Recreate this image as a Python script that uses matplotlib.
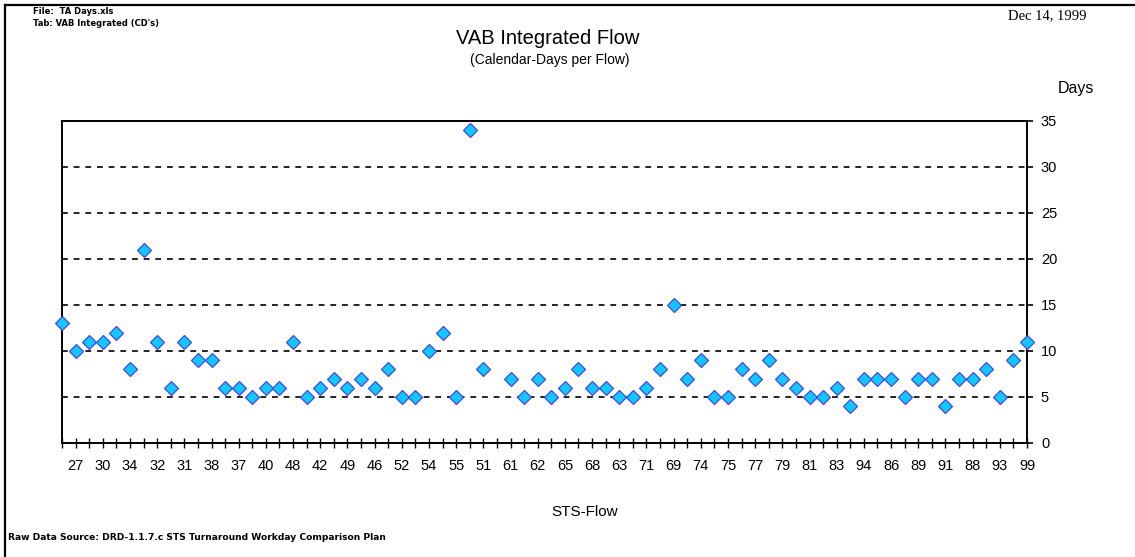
import matplotlib
matplotlib.use("Agg")
import matplotlib.pyplot as plt
import numpy as np

# Data: calendar-days per flow, in processing order (None = no value)
days = [13, 10, 11, 11, 12, 8, 21, 11, 6, 11, 9, 9, 6, 6, 5, 6, 6, 11, 5, 6,
        7, 6, 7, 6, 8, 5, 5, 10, 12, 5, 34, 8, None, 7, 5, 7, 5, 6, 8, 6,
        6, 5, 5, 6, 8, 15, 7, 9, 5, 5, 8, 7, 9, 7, 6, 5, 5, 6, 4, 7,
        7, 7, 5, 7, 7, 4, 7, 7, 8, 5, 9, 11]
# Shown flow labels (every other point, starting with the second)
flow_labels = ["27", "30", "34", "32", "31", "38", "37", "40", "48", "42", "49", "46",
               "52", "54", "55", "51", "61", "62", "65", "68", "63", "71", "69", "74",
               "75", "77", "79", "81", "83", "94", "86", "89", "91", "88", "93", "99"]
y_ticks = [0, 5, 10, 15, 20, 25, 30, 35]

W, H = 1135, 557
fig = plt.figure(figsize=(W / 100, H / 100), dpi=100)
fig.patch.set_facecolor("white")

# outer frame (left + top)
fig.add_artist(plt.Line2D([5 / W, 5 / W], [0, 1 - 5 / H], color="black", lw=1.6))
fig.add_artist(plt.Line2D([5 / W, 1], [1 - 5 / H, 1 - 5 / H], color="black", lw=1.6))

L, R, T, B = 62, 1027, 121, 443
ax = fig.add_axes([L / W, 1 - B / H, (R - L) / W, (B - T) / H])

x = np.arange(len(days))
y = np.array([np.nan if v is None else v for v in days], dtype=float)
ax.plot(x, y, linestyle="none", marker="D", markersize=7.2,
        markerfacecolor="#10C8FF", markeredgecolor="#4848D8", markeredgewidth=0.9,
        clip_on=False, zorder=5)

ax.set_xlim(0, len(days) - 1)
ax.set_ylim(0, 35)

ax.yaxis.tick_right()
ax.set_yticks(y_ticks)
ax.set_yticklabels([str(v) for v in y_ticks], fontsize=10.5, family="Liberation Sans")
ax.tick_params(axis="y", direction="out", length=4, width=1.2, pad=6, right=True, left=False)

ax.set_xticks(x)
lbls = [""] * len(days)
for i, s in enumerate(flow_labels):
    lbls[2 * i + 1] = s
ax.set_xticklabels(lbls, fontsize=10.5, family="Liberation Sans")
ax.tick_params(axis="x", direction="inout", length=7, width=1.0, pad=8)

for v in y_ticks[1:-1]:
    ax.axhline(v, color="black", lw=1.2, linestyle=(0, (3.5, 3.5)), zorder=1)

for s in ax.spines.values():
    s.set_linewidth(1.4)
    s.set_color("black")

# texts
fig.text(33 / W, 1 - 12 / H, "File:  TA Days.xls", fontsize=6, fontweight="bold",
         family="DejaVu Sans", va="center", ha="left")
fig.text(33 / W, 1 - 23 / H, "Tab: VAB Integrated (CD's)", fontsize=6, fontweight="bold",
         family="DejaVu Sans", va="center", ha="left")
fig.text(548 / W, 1 - 38 / H, "VAB Integrated Flow", fontsize=14.5,
         family="Liberation Sans", ha="center", va="center")
fig.text(550 / W, 1 - 60 / H, "(Calendar-Days per Flow)", fontsize=10,
         family="Liberation Sans", ha="center", va="center")
fig.text(1047 / W, 1 - 16 / H, "Dec 14, 1999", fontsize=10.5,
         family="Liberation Serif", ha="center", va="center")
fig.text(1076 / W, 1 - 89 / H, "Days", fontsize=11.5,
         family="Liberation Sans", ha="center", va="center")
fig.text(585 / W, 1 - 512 / H, "STS-Flow", fontsize=11,
         family="Liberation Sans", ha="center", va="center")
fig.text(8 / W, 1 - 538 / H, "Raw Data Source: DRD-1.1.7.c STS Turnaround Workday Comparison Plan",
         fontsize=6.6, fontweight="bold", family="DejaVu Sans", ha="left", va="center")

fig.savefig("out.png", dpi=100)
